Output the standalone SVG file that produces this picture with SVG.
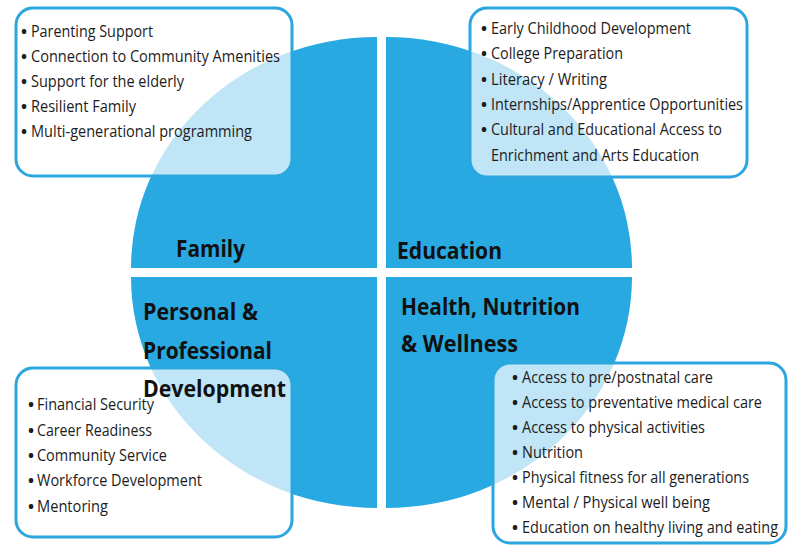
<svg xmlns="http://www.w3.org/2000/svg" width="795" height="547" viewBox="0 0 795 547">
<style>
.q{fill:#29a9e1}
.box{fill:#ffffff;fill-opacity:0.7;stroke:#2ba6de;stroke-width:3}
.it{font-family:"Open Sans","Noto Sans","Liberation Sans",sans-serif;font-size:17px;fill:#1c1c1c}
.bu{font-family:"Open Sans","Noto Sans","Liberation Sans",sans-serif;font-size:16px;font-weight:bold;fill:#1c1c1c}
.hd{font-family:"Open Sans","Noto Sans","Liberation Sans",sans-serif;font-size:24px;font-weight:bold;fill:#111111}
</style>
<rect width="795" height="547" fill="#ffffff"/>

<g id="family">
<path class="q" d="M377,268 L131,268 A246,231 0 0 1 377,37 Z"/>
<rect class="box" x="16" y="8" width="276" height="168" rx="17"/>
<text class="bu" x="21" y="37">•</text>
<text class="bu" x="21" y="62">•</text>
<text class="bu" x="21" y="87">•</text>
<text class="bu" x="21" y="112">•</text>
<text class="bu" x="21" y="137">•</text>
<text class="it" x="31" y="37" textLength="122" lengthAdjust="spacingAndGlyphs">Parenting Support</text>
<text class="it" x="31" y="62" textLength="249" lengthAdjust="spacingAndGlyphs">Connection to Community Amenities</text>
<text class="it" x="31" y="87" textLength="153" lengthAdjust="spacingAndGlyphs">Support for the elderly</text>
<text class="it" x="31" y="112" textLength="105" lengthAdjust="spacingAndGlyphs">Resilient Family</text>
<text class="it" x="31" y="137" textLength="221" lengthAdjust="spacingAndGlyphs">Multi-generational programming</text>
<text class="hd" x="176" y="257" textLength="69" lengthAdjust="spacingAndGlyphs">Family</text>
</g>

<g id="education">
<path class="q" d="M386,268 L386,37 A246,231 0 0 1 632,268 Z"/>
<rect class="box" x="470" y="8" width="277" height="169" rx="17"/>
<text class="bu" x="481" y="34">•</text>
<text class="bu" x="481" y="59">•</text>
<text class="bu" x="481" y="85">•</text>
<text class="bu" x="481" y="110">•</text>
<text class="bu" x="481" y="135">•</text>
<text class="it" x="491" y="34" textLength="200" lengthAdjust="spacingAndGlyphs">Early Childhood Development</text>
<text class="it" x="491" y="59" textLength="132" lengthAdjust="spacingAndGlyphs">College Preparation</text>
<text class="it" x="491" y="85" textLength="116" lengthAdjust="spacingAndGlyphs">Literacy / Writing</text>
<text class="it" x="491" y="110" textLength="252" lengthAdjust="spacingAndGlyphs">Internships/Apprentice Opportunities</text>
<text class="it" x="491" y="135" textLength="231" lengthAdjust="spacingAndGlyphs">Cultural and Educational Access to</text>
<text class="it" x="491" y="161" textLength="208" lengthAdjust="spacingAndGlyphs">Enrichment and Arts Education</text>
<text class="hd" x="397" y="259" textLength="105" lengthAdjust="spacingAndGlyphs">Education</text>
</g>

<g id="personal-professional">
<path class="q" d="M377,277 L377,508 A246,231 0 0 1 131,277 Z"/>
<rect class="box" x="16" y="368" width="276" height="169" rx="17"/>
<text class="bu" x="28" y="410">•</text>
<text class="bu" x="28" y="436">•</text>
<text class="bu" x="28" y="461">•</text>
<text class="bu" x="28" y="486">•</text>
<text class="bu" x="28" y="512">•</text>
<text class="it" x="37" y="410" textLength="117" lengthAdjust="spacingAndGlyphs">Financial Security</text>
<text class="it" x="37" y="436" textLength="115" lengthAdjust="spacingAndGlyphs">Career Readiness</text>
<text class="it" x="37" y="461" textLength="130" lengthAdjust="spacingAndGlyphs">Community Service</text>
<text class="it" x="37" y="486" textLength="165" lengthAdjust="spacingAndGlyphs">Workforce Development</text>
<text class="it" x="37" y="512" textLength="71" lengthAdjust="spacingAndGlyphs">Mentoring</text>
<text class="hd" x="143" y="320" textLength="115" lengthAdjust="spacingAndGlyphs">Personal &amp;</text>
<text class="hd" x="143" y="359" textLength="129" lengthAdjust="spacingAndGlyphs">Professional</text>
<text class="hd" x="143" y="397" textLength="143" lengthAdjust="spacingAndGlyphs">Development</text>
</g>

<g id="health">
<path class="q" d="M386,277 L632,277 A246,231 0 0 1 386,508 Z"/>
<rect class="box" x="493" y="363" width="293" height="180" rx="17"/>
<text class="bu" x="512" y="383">•</text>
<text class="bu" x="512" y="408">•</text>
<text class="bu" x="512" y="433">•</text>
<text class="bu" x="512" y="458">•</text>
<text class="bu" x="512" y="483">•</text>
<text class="bu" x="512" y="508">•</text>
<text class="bu" x="512" y="533">•</text>
<text class="it" x="522" y="383" textLength="191" lengthAdjust="spacingAndGlyphs">Access to pre/postnatal care</text>
<text class="it" x="522" y="408" textLength="240" lengthAdjust="spacingAndGlyphs">Access to preventative medical care</text>
<text class="it" x="522" y="433" textLength="183" lengthAdjust="spacingAndGlyphs">Access to physical activities</text>
<text class="it" x="522" y="458" textLength="61" lengthAdjust="spacingAndGlyphs">Nutrition</text>
<text class="it" x="522" y="483" textLength="227" lengthAdjust="spacingAndGlyphs">Physical fitness for all generations</text>
<text class="it" x="522" y="508" textLength="188" lengthAdjust="spacingAndGlyphs">Mental / Physical well being</text>
<text class="it" x="522" y="533" textLength="256" lengthAdjust="spacingAndGlyphs">Education on healthy living and eating</text>
<text class="hd" x="401" y="315" textLength="179" lengthAdjust="spacingAndGlyphs">Health, Nutrition</text>
<text class="hd" x="401" y="352" textLength="117" lengthAdjust="spacingAndGlyphs">&amp; Wellness</text>
</g>
</svg>
